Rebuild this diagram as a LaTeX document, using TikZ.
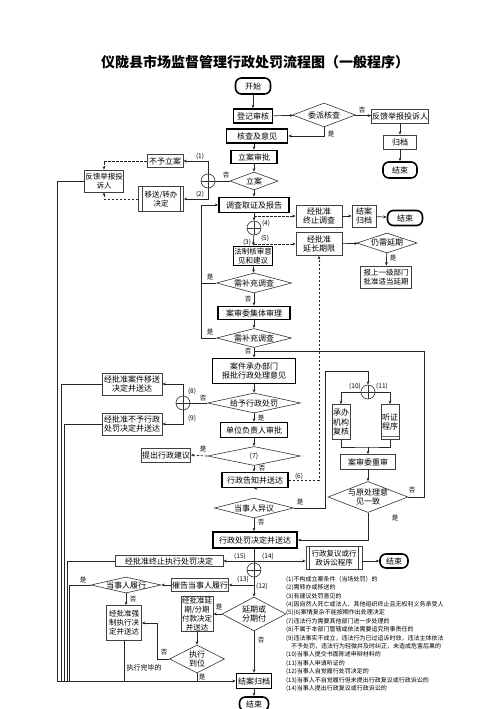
\documentclass[tikz,border=0pt]{standalone}
\usepackage{fontspec}
\setmainfont{Noto Sans CJK SC}
\usetikzlibrary{arrows.meta,shapes.geometric}
\begin{document}
\begin{tikzpicture}[x=1pt,y=-1pt,
  every node/.style={font=\fontsize{8}{9.5}\selectfont, inner sep=0.5pt, align=center},
  sz/.style 2 args={minimum width=#1, minimum height=#2},
  thinbox/.style={draw=black!75, line width=0.6pt, rectangle},
  thickbox/.style={draw=black, line width=1.6pt, rectangle},
  rbox/.style={draw=black, line width=1.6pt, rectangle, rounded corners=6pt},
  predef/.style={path picture={
     \draw[black!75,line width=0.5pt] ([xshift=3.5pt]path picture bounding box.north west) -- ([xshift=3.5pt]path picture bounding box.south west);
     \draw[black!75,line width=0.5pt] ([xshift=-3.5pt]path picture bounding box.north east) -- ([xshift=-3.5pt]path picture bounding box.south east);}},
  botline/.style={path picture={
     \draw[black!60,line width=0.4pt] ([yshift=3pt]path picture bounding box.south west) -- ([yshift=3pt]path picture bounding box.south east);}},
  dia/.style 2 args={diamond, draw=black!80, line width=0.6pt, inner sep=0pt, minimum width=#1, minimum height=#2},
  circ/.style={circle, draw=black!80, line width=0.6pt, minimum size=14pt, inner sep=0pt,
     path picture={\draw[line width=0.6pt] (path picture bounding box.north) -- (path picture bounding box.south);
                   \draw[line width=0.6pt] (path picture bounding box.west) -- (path picture bounding box.east);}},
  lab/.style={font=\fontsize{6.5}{7.5}\selectfont, inner sep=0pt},
  dl/.style={label={[align=center,font=\fontsize{8}{9.5}\selectfont]center:#1}},
  conn/.style={draw=black!85, line width=0.7pt},
  arr/.style={conn, -{Stealth[length=3.5pt,width=2.8pt]}},
  dsh/.style={dash pattern=on 2.5pt off 1.5pt}
]
\fill[white] (0,0) rectangle (500,709);
\useasboundingbox (0,0) rectangle (500,709);

% title
\node[font=\fontsize{14}{16}\selectfont\bfseries] (title) at (255,62) {仪陇县市场监督管理行政处罚流程图（一般程序）};

% top part
\node[rbox, sz={35}{16}] (start) at (253,86) {开始};
\node[thickbox, sz={39}{14}] (djsh) at (253,116) {登记审核};
\node[dia={63}{24}, dl={委派核查}] (wpch) at (324,115) {};
\node[thinbox, sz={55}{14}] (fk1) at (400,116) {反馈举报投诉人};
\node[thinbox, sz={33}{14}] (gd) at (400,142) {归档};
\node[rbox, sz={34}{16}] (end1) at (400,170) {结束};
\node[thickbox, sz={61}{14}] (hcjyj) at (257,136) {核查及意见};
\node[thickbox, sz={46}{13}] (lasp) at (254,157) {立案审批};
\node[dia={48}{18}, dl={立案}] (la) at (254,181) {};
\node[circ] (c1) at (208,181) {};
\node[thinbox, sz={36}{13}] (byla) at (165,161) {不予立案};
\node[thinbox, predef, sz={45}{25}, font=\fontsize{7.5}{9}\selectfont] (ys) at (161,199) {移送/转办\\决定};
\node[thinbox, sz={39}{22}, font=\fontsize{7.5}{9}\selectfont] (fk2) at (104,181) {反馈举报投\\诉人};

% investigation
\node[thickbox, sz={70}{15}] (dcqz) at (254,205) {调查取证及报告};
\node[circ] (c2) at (254,228) {};
\node[thinbox, sz={46}{22}] (zzdc) at (319,216) {经批准\\终止调查};
\node[thinbox, sz={24}{22}] (jaga) at (364,216) {结案\\归档};
\node[rbox, sz={35}{15}] (end2) at (405,218) {结束};
\node[thickbox, sz={39}{19}, font=\fontsize{7.5}{9}\selectfont] (fzhs) at (253,256) {法制核审意\\见和建议};
\node[thinbox, sz={46}{23}] (yczx) at (319,244) {经批准\\延长期限};
\node[dia={60}{20}, dl={仍需延期}] (rxyq) at (387,243) {};
\node[thinbox, sz={51}{22}, font=\fontsize{7.5}{9}\selectfont] (bsyj) at (386,277) {报上一级部门\\批准适当延期};
\node[dia={75}{20}, dl={需补充调查}] (bc1) at (254,283) {};
\node[thickbox, sz={72}{13}] (asw) at (254,313) {案审委集体审理};
\node[dia={75}{19}, dl={需补充调查}] (bc2) at (254,338) {};
\node[thickbox, sz={83}{25}] (ajcb) at (254,371) {案件承办部门\\报批行政处理意见};
\node[dia={93}{20}, dl={给予行政处罚}] (gyxz) at (254,403) {};
\node[circ] (c3) at (183,403) {};
\node[thinbox, sz={60}{22}] (yszd) at (132,384) {经批准案件移送\\决定并送达};
\node[thinbox, sz={60}{22}] (bycf) at (132,424) {经批准不予行政\\处罚决定并送达};
\node[thickbox, sz={67}{15}] (dwfz) at (254,430) {单位负责人审批};
\node[dia={93}{19}, dl={\fontsize{7}{8}\selectfont(7)}] (d7) at (254,456) {};
\node[thinbox, sz={48}{14}] (tcjy) at (166,455) {提出行政建议};
\node[thickbox, sz={66}{15}] (xzgz) at (255,480) {行政告知并送达};
\node[dia={79}{20}, dl={当事人异议}] (dsyy) at (254,508) {};

% hearing branch
\node[circ] (c4) at (368,392) {};
\node[thinbox, sz={18}{35}] (cbfh) at (341,422) {承办\\机构\\复核};
\node[thinbox, botline, sz={18}{35}] (tzcx) at (390,422) {听证\\程序};
\node[thinbox, sz={55}{15}] (asws) at (368,462) {案审委重审};
\node[dia={80}{31}, dl={与原处理意\\见一致}] (yyz) at (368,497) {};

% decision and execution
\node[thickbox, sz={84}{16}] (xzcfjd) at (255,540) {行政处罚决定并送达};
\node[circ] (c5) at (254,570) {};
\node[thinbox, sz={108}{11}] (zzzx) at (169,561) {经批准终止执行处罚决定};
\node[thinbox, predef, sz={56}{23}, font=\fontsize{7.5}{9}\selectfont] (xzfy) at (334,558) {行政复议或行\\政诉讼程序};
\node[rbox, sz={28}{14}] (end3) at (394,561) {结束};
\node[thinbox, sz={53}{13}] (cg) at (200,585) {催告当事人履行};
\node[dia={70}{16}, dl={当事人履行}] (dslx) at (126,585) {};
\node[dia={64}{34}, dl={延期或\\分期付}] (yqfq) at (254,614) {};
\node[thinbox, sz={32}{35}, font=\fontsize{7.5}{9}\selectfont] (jpyq) at (197,614) {经批准延\\期/分期\\付款决定\\并送达};
\node[dia={55}{28}, dl={执行\\到位}] (zxdw) at (197,659) {};
\node[thinbox, sz={35}{35}, font=\fontsize{7.5}{9}\selectfont] (qzzx) at (124,623) {经批准强\\制执行决\\定并送达};
\node[thickbox, sz={35}{15}] (jags) at (254,681) {结案归档};
\node[rbox, sz={29}{14}] (end4) at (254,704) {结束};

% coordinates
\coordinate (bl) at (57,681);
\coordinate (b4) at (254,216);
\coordinate (b5) at (254,244);
\coordinate (lp) at (201,205);
\coordinate (rl) at (424,351);
\coordinate (dq) at (325,371);
\coordinate (mj) at (368,447);
\coordinate (b15) at (254,561);
\coordinate (b13) at (254,585);
\coordinate (zl) at (157,659);
\coordinate (d6) at (319,480);

% connectors top
\draw[arr] (start) -- (djsh);
\draw[arr] (djsh) -- (wpch);
\draw[arr] (wpch) -- (fk1);
\draw[arr] (fk1) -- (gd);
\draw[arr] (gd) -- (end1);
\draw[arr] (wpch.south) |- (hcjyj.east);
\draw[arr] (lasp.north |- hcjyj.south) -- (lasp.north);
\draw[arr] (lasp) -- (la);
\draw[conn] (la.west) -- (c1.east);
\draw[arr] (c1.north) |- (byla.east);
\draw[arr] (c1.south) |- (ys.east);
\draw[arr,dsh] (byla.west) -| (fk2.north);
\draw[arr,dsh] (ys.west) -| (fk2.south);
\draw[conn] (fk2.west) -| (bl);
\draw[arr] (bl) -- (jags.west);

% investigation connectors
\draw[arr] (la) -- (dcqz);
\draw[arr] (dcqz) -- (c2);
\draw[arr,dsh] (b4) -- (zzdc.west);
\draw[arr,dsh] (b5) -- (yczx.west);
\draw[arr] (c2) -- (fzhs);
\draw[arr] (zzdc) -- (jaga);
\draw[arr] (jaga) -- (end2);
\draw[arr] (yczx) -- (rxyq);
\draw[arr] (rxyq) -- (bsyj);
\draw[arr] (fzhs) -- (bc1);
\draw[conn] (bc1.west) -- (bc1.west -| lp);
\draw[arr] (bc2.west) -| (lp) -- (dcqz.west);
\draw[arr] (bc1) -- (asw);
\draw[arr] (asw) -- (bc2);
\draw[arr] (bc2) -- (ajcb);
\draw[conn] (yyz.east) -| (rl) -- (rl -| ajcb.north);
\draw[arr] (ajcb) -- (gyxz);
\draw[conn] (gyxz.west) -- (c3.east);
\draw[arr] (c3.north) |- (yszd.east);
\draw[arr] (c3.south) |- (bycf.east);
\draw[conn] (yszd.west) -| (61,681);
\draw[conn] (bycf.west) -| (64,681);
\draw[arr] (gyxz) -- (dwfz);
\draw[arr] (dwfz) -- (d7);
\draw[arr,dsh] (d7.west) -- (tcjy.east);
\draw[arr] (d7.south) -- (d7.south |- xzgz.north);
\draw[arr,dsh] (xzgz.east) -- (d6) -- (yczx.south);
\draw[arr] (xzgz.south) -- (xzgz.south -| dsyy.north) ;
\draw[arr] (dsyy.east) -| (dq) -| (c4.north);
\draw[arr] (c4.west) -| (cbfh.north);
\draw[arr] (c4.east) -| (tzcx.north);
\draw[conn] (cbfh.south) |- (mj) -| (tzcx.south);
\draw[arr] (mj) -- (asws.north);
\draw[arr] (asws) -- (yyz);
\draw[arr] (yyz.south) |- (xzcfjd.east);
\draw[arr] (dsyy.south) -- (dsyy.south |- xzcfjd.north);

% execution connectors
\draw[conn] (xzcfjd.south -| c5.north) -- (c5.north);
\draw[arr] (b15) -- (zzzx.east);
\draw[arr] (b15) -- (b15 -| xzfy.west);
\draw[arr] (xzfy.east |- end3.west) -- (end3.west);
\draw[conn] (zzzx.west) -| (67,681);
\draw[arr] (c5.south) -- (yqfq.north);
\draw[arr] (b13) -- (cg.east);
\draw[arr] (cg.west) -- (dslx.east);
\draw[conn] (dslx.west) -| (69,681);
\draw[arr] (dslx.south) -- (dslx.south |- qzzx.north);
\draw[arr] (yqfq.west) -- (jpyq.east);
\draw[arr] (yqfq.south) -- (jags.north);
\draw[arr] (jpyq) -- (zxdw);
\draw[arr] (zxdw.west) -- (zl) |- (qzzx.east);
\draw[conn] (zxdw.south) -- (zxdw.south |- bl);
\draw[conn] (qzzx.south) -- (qzzx.south |- bl);
\draw[arr] (jags) -- (end4);

% labels
\node[lab] (l1) at (362,110) {否};
\node[lab] (l2) at (331,134) {是};
\node[lab] (l3) at (226,175) {否};
\node[lab] (l4) at (200,156) {(1)};
\node[lab] (l5) at (200,194) {(2)};
\node[lab] (l6) at (266,223) {(4)};
\node[lab] (l7) at (247,242) {(3)};
\node[lab] (l8) at (265,238) {(5)};
\node[lab] (l9) at (393,258) {是};
\node[lab] (l10) at (210,277) {是};
\node[lab] (l11) at (210,332) {是};
\node[lab] (l12) at (248,299) {否};
\node[lab] (l13) at (248,351) {否};
\node[lab] (l14) at (203,398) {否};
\node[lab] (l15) at (192,391) {(8)};
\node[lab] (l16) at (192,418) {(9)};
\node[lab] (l17) at (261,418) {是};
\node[lab] (l18) at (203,449) {是};
\node[lab] (l19) at (262,468) {否};
\node[lab] (l20) at (299,476) {(6)};
\node[lab] (l21) at (300,502) {是};
\node[lab] (l22) at (355,386) {(10)};
\node[lab] (l23) at (382,386) {(11)};
\node[lab] (l24) at (412,490) {否};
\node[lab] (l25) at (395,518) {是};
\node[lab] (l26) at (261,522) {否};
\node[lab] (l27) at (240,556) {(15)};
\node[lab] (l28) at (268,556) {(14)};
\node[lab] (l29) at (243,579) {(13)};
\node[lab] (l30) at (262,586) {(12)};
\node[lab] (l31) at (83,580) {是};
\node[lab] (l32) at (133,599) {否};
\node[lab] (l33) at (219,607) {是};
\node[lab] (l34) at (261,640) {否};
\node[lab] (l35) at (164,652) {否};
\node[lab] (l36) at (202,677) {是};
\node[lab,font=\fontsize{7}{8}\selectfont] (l37) at (144,668) {执行完毕的};

% legend
\node[anchor=north west, align=left, inner sep=0pt, font=\fontsize{6}{8.4}\selectfont] (legend) at (286,576) {%
(1)不构成立案条件（当场处罚）的\\
(2)需转办或移送的\\
(3)有建议处罚意见的\\
(4)因自然人死亡或法人、其他组织终止且无权利义务承受人\\
(5)(6)案情复杂不能按期作出处理决定\\
(7)违法行为需要其他部门进一步处理的\\
(8)不属于本部门管辖或依法需要追究刑事责任的\\
(9)违法事实不成立，违法行为已过追诉时效，违法主体依法\\
\hspace{5pt}不予处罚，违法行为轻微并及时纠正，未造成危害后果的\\
(10)当事人提交书面陈述申辩材料的\\
(11)当事人申请听证的\\
(12)当事人自觉履行处罚决定的\\
(13)当事人不自觉履行但未提出行政复议或行政诉讼的\\
(14)当事人提出行政复议或行政诉讼的};
\end{tikzpicture}
\end{document}
